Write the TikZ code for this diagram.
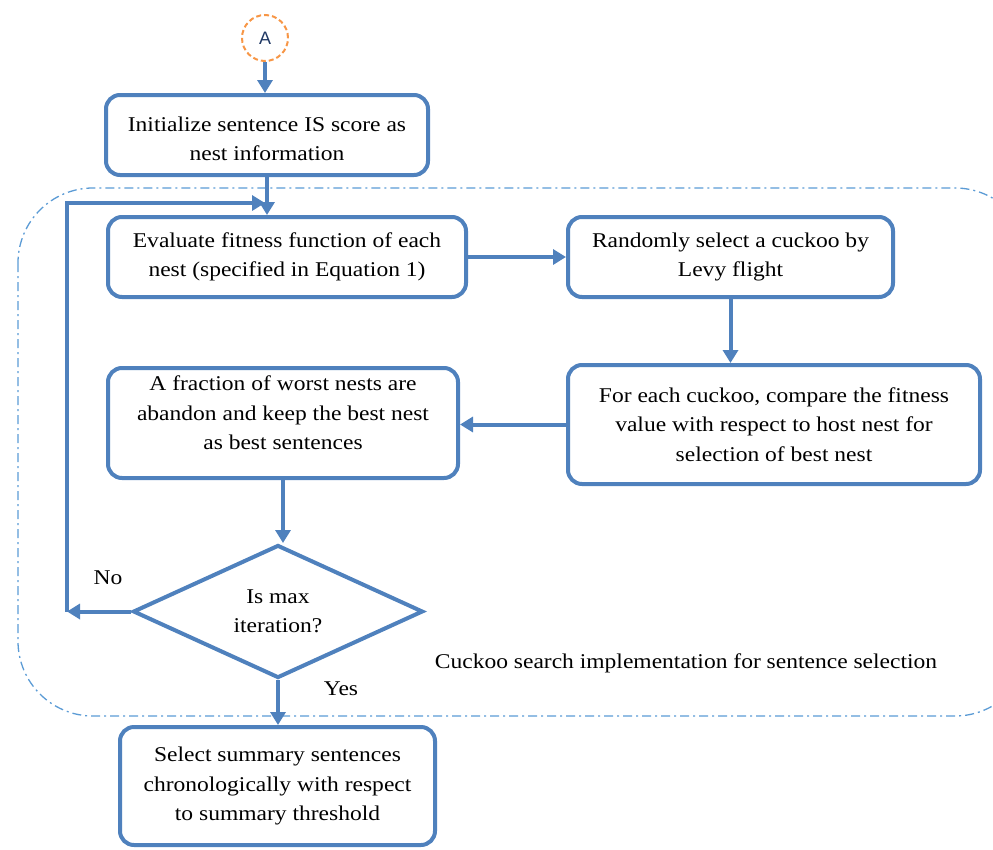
\documentclass[tikz,border=0pt]{standalone}
\usepackage{fontspec}
\setmainfont{Liberation Serif}[FakeStretch=1.12]
\setsansfont{Liberation Sans}
\usetikzlibrary{arrows.meta,shapes.geometric}
\definecolor{boxblue}{HTML}{4F81BD}
\definecolor{regionblue}{HTML}{5B9BD5}
\definecolor{circorange}{HTML}{F79646}
\definecolor{letterblue}{HTML}{1F3864}
\tikzset{
  procbox/.style={draw=boxblue, line width=4pt, rounded corners=14pt, fill=white,
    align=center, font=\fontsize{21}{29.5}\selectfont, inner sep=0pt},
  boxtext/.style={align=center, font=\fontsize{21}{29.5}\selectfont, inner sep=0pt},
  conn/.style={draw=boxblue, line width=4pt, -{Triangle[width=15pt,length=13pt]}},
  plainline/.style={draw=boxblue, line width=4pt},
  lbl/.style={font=\fontsize{21}{24}\selectfont, inner sep=0pt}
}
\begin{document}
\begin{tikzpicture}[x=1pt,y=-1pt]
\useasboundingbox (0,0) rectangle (993,849);
% region
\draw[regionblue, line width=1.3pt, dash pattern=on 9pt off 4pt on 2pt off 4pt, rounded corners=75pt]
  (18,188) rectangle (1030,716);
\node[lbl] (reglabel) at (686,663) {Cuckoo search implementation for sentence selection};
% connector A
\node[circle, draw=circorange, dash pattern=on 5pt off 3pt, line width=2pt, minimum size=46pt, inner sep=0pt,
  font=\sffamily\fontsize{18}{18}\selectfont, text=letterblue] (A) at (265,38) {A};
% boxes
\node[procbox, minimum width=322pt, minimum height=80pt] (b1) at (267,135) {};
\node[boxtext] (b1t) at (267,139) {Initialize sentence IS score as\\nest information};
\node[procbox, minimum width=358pt, minimum height=80pt] (b2) at (287,257)
  {Evaluate fitness function of each\\nest (specified in Equation 1)};
\node[procbox, minimum width=325pt, minimum height=80pt] (b3) at (730.5,257)
  {Randomly select a cuckoo by\\Levy flight};
\node[procbox, minimum width=412pt, minimum height=119pt] (b4) at (774,424.5)
  {For each cuckoo, compare the fitness\\value with respect to host nest for\\selection of best nest};
\node[procbox, minimum width=350pt, minimum height=110pt] (b5) at (283,423) {};
\node[boxtext] (b5t) at (283,413)
  {A fraction of worst nests are\\abandon and keep the best nest\\as best sentences};
\node[procbox, minimum width=315pt, minimum height=118pt] (b6) at (277.5,786)
  {Select summary sentences\\chronologically with respect\\to summary threshold};
\node[diamond, draw=boxblue, line width=4pt, fill=white, minimum width=290pt, minimum height=133pt,
  inner sep=0pt, align=center, font=\fontsize{21}{29.5}\selectfont] (d) at (278,611.5)
  {Is max\\iteration?};
% labels
\node[lbl] (no) at (108,578) {No};
\node[lbl] (yes) at (341,689) {Yes};
% connectors
\draw[conn] (A.south) -- (A.south |- b1.north);
\draw[conn] (b1.south) -- (b1.south |- b2.north);
\draw[conn] (b2.east) -- (b3.west);
\draw[conn] (b3.south) -- (b3.south |- b4.north);
\draw[conn] (b4.west) -- (b4.west -| b5.east);
\draw[conn] (b5.south) -- (b5.south |- d.north);
\coordinate (loopbot) at (67,611.5);
\coordinate (looptop) at (67,203);
\coordinate (loopend) at (265,203);
\draw[conn] (d.west) -- (loopbot);
\draw[plainline] (loopbot) -- (looptop);
\draw[conn, line join=miter] (67,205) -- (looptop) -- (loopend);
\draw[conn] (d.south) -- (d.south |- b6.north);
\end{tikzpicture}
\end{document}
